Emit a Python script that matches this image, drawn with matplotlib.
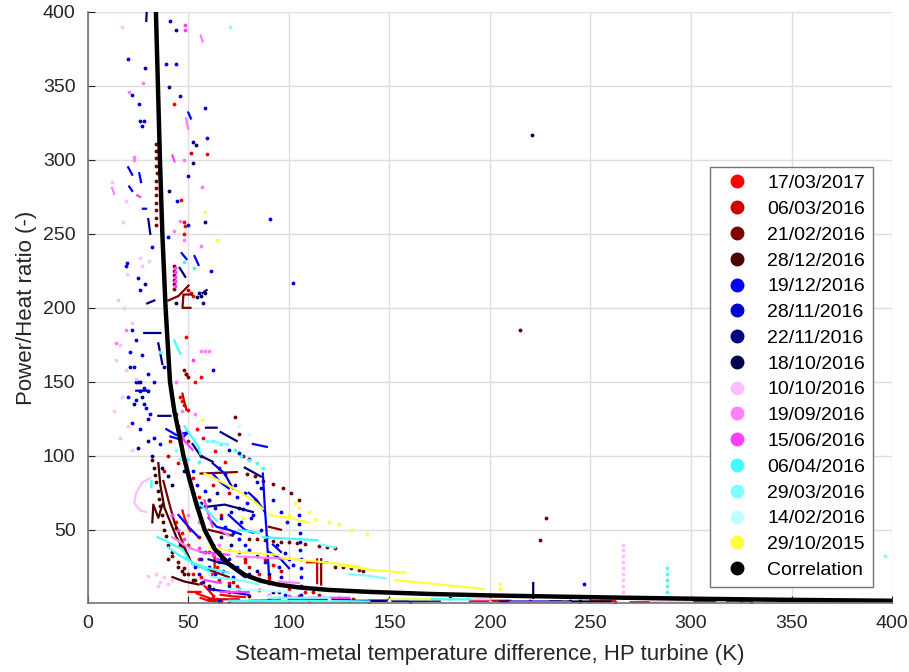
import matplotlib
matplotlib.use('Agg')
import matplotlib.pyplot as plt
from matplotlib.lines import Line2D

nan = float('nan')

dates = ['17/03/2017', '06/03/2016', '21/02/2016', '28/12/2016', '19/12/2016',
         '28/11/2016', '22/11/2016', '18/10/2016', '10/10/2016', '19/09/2016',
         '15/06/2016', '06/04/2016', '29/03/2016', '14/02/2016', '29/10/2015']
colors = [(1, 0, 0), (0.8, 0, 0), (0.5, 0, 0), (0.3, 0, 0), (0, 0, 1),
          (0, 0, 0.8), (0, 0, 0.5), (0, 0, 0.3), (1, 0.75, 1), (1, 0.5, 1),
          (1, 0.25, 1), (0.25, 1, 1), (0.5, 1, 1), (0.75, 1, 1), (1, 1, 0.25)]

# correlation curve
corr_x = [33.8, 34.8, 35.8, 37.0, 38.6, 40.8, 43.0, 45.0, 47.5, 50.5, 54.0, 58.0, 63.0,
          70.0, 78.0, 86.0, 95.0, 105, 120, 140, 170, 200, 230, 260, 300, 350, 400]
corr_y = [400, 350, 300, 250, 200, 150, 130, 117, 100, 84, 67, 50, 37,
          27, 19.5, 15.5, 12.8, 11, 9.3, 8, 6.6, 5.6, 4.9, 4.2, 3.4, 2.6, 2.0]

# --- 17/03/2017
s1_x = [43, 59, 48, 48.5, 46.4, 48, 51, 52, 46, 47, 48, 50, 53, 56, 45, 52, 55, 58, 42, 44, 47, 50,
        60, 62, 64, 66, 70, 95, 110, 120, 140, 255, 262, 300, 310, 325, 330, 85, 90, 100, 108,
        54, 57, 63, 68, 75, 78, 44, 41, 49,
        55, 58, 61, 65, 70, 74, 52, 56, 64, 68, 88, 92]
s1_y = [338, 304, 258, 255, 273, 250, 210, 208, 140, 137, 134, 131, 150, 153, 95, 85, 72, 66, 60, 55, 48, 40,
        10, 5, 3, 2, 1.5, 4, 2, 3, 1.5, 2, 1.5, 1, 2.5, 2, 1.5, 20, 16, 10, 8,
        118, 112, 103, 96, 35, 28, 128, 110, 180,
        30, 24, 20, 16, 14, 12, 20, 18, 25, 28, 30, 26]
s1_tx = [47, 48, 49, 50, 51, nan, 54, 58, 62, 64, nan, 56, 60, 63, nan, 250, 262, nan, 300, 312, nan,
         66, 72, 78, nan, 50, 56, nan, 58, 62, nan, 80, 95, nan, 270, 285, nan, 318, 330]
s1_ty = [63, 58, 55, 51, 49, nan, 7, 5, 3, 2, nan, 4, 2, 1.5, nan, 2, 2, nan, 1.5, 1.5, nan,
         6, 5, 4.5, nan, 8, 8, nan, 12, 6, nan, 2, 2.5, nan, 1, 1, nan, 2, 2]

# --- 06/03/2016
s2_x = [51, 50, 49, 45, 50, 56, 62, 70, 66, 78, 80, 90, 96, 100, 112, 115, 125, 132, 150, 200, 220,
        40, 38, 55, 60, 65, 72, 85, 105]
s2_y = [305, 212, 155, 120, 110, 100, 80, 75, 60, 30, 25, 18, 22, 12, 8, 6, 4, 3, 2, 1.5, 2,
        100, 90, 45, 35, 28, 15, 9, 5]
s2_tx = [47, 48, 49, nan, 63, 63, nan, 114, 114, nan, 109, 119, nan, 60, 75, nan, 190, 210]
s2_ty = [142, 136, 131, nan, 32, 20, nan, 30, 14, nan, 28, 28, nan, 3, 3, nan, 2, 2]

# --- 21/02/2016
s3_x = [33.8, 34.0, 33.7, 33.9, 34.1, 33.8, 33.6, 33.9, 34.0, 33.8, 33.7, 34.0,
        73, 75, 77, 79, 83, 87, 92, 97, 101, 105,
        80, 84, 88, 92, 96, 100, 104, 108, 115, 119, 123,
        123, 127, 131, 135, 137, 228, 225,
        43, 43, 43, 43, 43, 43, 48, 49, 50,
        40, 42, 45, 48, 50, 53, 56, 60]
s3_y = [311, 306, 301, 296, 291, 286, 281, 276, 271, 266, 261, 256,
        126, 115, 100, 88, 86, 83, 81, 78, 75, 70,
        44, 43.5, 43, 42.5, 42, 41.5, 41, 40.5, 39, 38.5, 38,
        25, 24.5, 24, 23, 22, 58, 43,
        228, 225, 222, 219, 216, 213, 158, 155, 153,
        40, 32, 28, 24, 20, 16, 14, 12]
s3_tx = [40, 45, 50, nan, 51.7, 47.5, 47, 51, nan, 37.5, 40, 43, 46, 49, 51, nan,
         52, 58, 64, 70, nan, 56, 74, nan, 116, 116, nan, 60, 66, 72, nan, 90, 96, nan, 100, 130]
s3_ty = [205, 208, 215, nan, 209, 209, 200, 200, nan, 83, 70, 55, 45, 35, 29, nan,
         27, 24, 21, 18, nan, 88, 89, nan, 30, 13, nan, 50, 48, 46, nan, 52, 50, nan, 3, 3]

# --- 28/12/2016
s4_x = [32, 33, 33.5, 34, 35, 35.5, 36, 37, 37.5, 38, 39, 215, 60, 62, 70, 80, 90,
        45, 48, 52, 40, 42, 44, 46, 47]
s4_y = [97, 92, 87, 82, 76, 71, 66, 60, 55, 50, 46, 185, 12, 10, 8, 5, 3,
        25, 20, 16, 30, 35, 51, 40, 22]
s4_tx = [32, 32.5, 35, 37, nan, 35, 36, 38, 41, 44, 47, 50, nan, 42, 48, 55, nan, 150, 175]
s4_ty = [55, 67, 58, 67, nan, 95, 80, 65, 55, 45, 38, 32, nan, 18, 15, 13, nan, 2, 2]

# --- 19/12/2016
s5_x = [40.8, 20, 39, 44, 21.7, 45.8, 25.3, 58.4, 59, 50, 44.3, 50, 40, 32, 19.6, 19, 61, 25, 26, 90.5,
        22, 24, 21, 27, 23, 30, 25, 28, 20, 24, 29, 31, 22, 26, 33, 36, 62, 30,
        60, 63, 66, 68, 72, 75, 78, 80, 84, 88, 62, 65, 70, 74, 80, 85, 90, 67, 72, 60, 63, 57,
        76, 82, 86, 89, 100, 95,
        105, 105, 105.3, 105.5, 105.5, 106, 106, 106, 106, 106, 65, 100, 130, 160,
        52, 54, 58, 65, 68, 74, 79, 84, 86, 92, 96, 99, 75, 71, 56, 58, 53, 55, 95, 98]
s5_y = [394, 368, 365, 365, 344, 343, 338, 335, 315, 289, 272, 256, 248, 241, 230, 228, 225, 220, 212, 260,
        185, 178, 170, 168, 160, 155, 150, 146, 140, 138, 132, 128, 122, 118, 112, 108, 158, 125,
        70, 65, 58, 52, 48, 44, 40, 36, 32, 28, 40, 35, 30, 25, 20, 17, 14, 22, 18, 25, 20, 15,
        55, 60, 50, 45, 30, 25,
        60, 54, 48, 42, 36, 30, 24, 18, 12, 6, 2, 3, 2, 1.5,
        90, 80, 76, 92, 88, 72, 68, 82, 78, 70, 62, 55, 65, 62, 30, 35, 25, 20, 8, 6]
s5_tx = [20, 22, nan, 25.5, 26.4, nan, 20.5, 22, nan, 27.3, 28.9, nan, 46.6, 49, nan, 53, 55, nan,
         49.9, 51.2, nan, 39, 44, 50, 46, 41, nan, 82, 89, nan, 87, 88, 89, 90, nan,
         60, 64, 70, 76, nan, 66, 72, 78, nan, 62, 66, 70, nan, 45, 50, 55, nan, 80, 84, 88, nan,
         70, 74, 78, 82, nan, 92, 96, nan, 60, 70, 80, nan, 100, 120, nan, 140, 170]
s5_ty = [295, 290, nan, 291, 285, nan, 282, 279, nan, 267, 267, nan, 237, 233, nan, 235, 229, nan,
         332, 328, nan, 118, 114, 116, 111, 113, nan, 108, 106, nan, 88, 65, 45, 20, nan,
         58, 52, 50, 47, nan, 30, 24, 18, nan, 88, 82, 78, nan, 60, 52, 45, nan, 75, 70, 62, nan,
         60, 55, 50, 48, nan, 40, 35, nan, 10, 8, 6, nan, 4, 3.5, nan, 2, 2]

# --- 28/11/2016
s6_x = [28, 27, 26, 21, 24, 26, 30, 28, 102, 247, 55, 57, 38, 33, 70, 75, 80, 73, 78, 83, 77, 81,
        94, 98, 102, 96, 70, 75]
s6_y = [326, 323, 326, 160, 150, 144, 144, 135, 217, 13, 210, 203, 160, 150, 104, 102, 98, 80, 75, 70, 64, 58,
        40, 34, 26, 18, 12, 10]
s6_tx = [24, 30, nan, 62, 68, 72, nan, 90, 96, 100, nan, 205, 235]
s6_ty = [144, 144, nan, 95, 88, 78, nan, 35, 30, 24, nan, 1.5, 1.5]

# --- 22/11/2016
s7_x = [43.6, 28.4, 40.3, 52.3, 53.8, 52.4, 40.5, 58, 28.4, 26, 27, 23, 30, 32, 25, 60, 64,
        48, 52, 56, 66, 71, 84, 90]
s7_y = [388, 362, 349, 312, 310, 298, 279, 258, 216, 150, 140, 135, 110, 100, 105, 70, 75,
        90, 75, 68, 45, 40, 22, 20]
s7_tx = [29.2, 29, nan, 30, 31, nan, 45.6, 48.4, nan, 28, 36, nan, 35, 37, nan, 35, 41, nan,
         58.7, 64, nan, 66, 74, nan, 29.5, 33, nan, 56, 68, 82, nan, 52, 56, 62, nan, 78, 86, nan,
         60, 65, 72, nan, 120, 150]
s7_ty = [400, 394, nan, 260, 250, nan, 227, 221, nan, 183, 183, nan, 176, 162, nan, 127, 127, nan,
         119, 119, nan, 116, 110, nan, 203, 205, nan, 65, 67, 62, nan, 108, 100, 96, nan, 92, 86, nan,
         30, 28, 26, nan, 2, 2]

# --- 18/10/2016
s8_x = [221, 54, 56, 58, 44, 37, 40, 42, 92, 150, 180, 240, 245]
s8_y = [317, 207, 208, 210, 203, 92, 86, 80, 8, 3, 4, 2, 2]
s8_tx = [221.5, 221.5, nan, 57, 59, nan, 230, 260]
s8_ty = [14, 4, nan, 210, 212, nan, 1.5, 1.5]

# --- 10/10/2016
s9_x = [16.8, 12, 17.6, 19, 19.5, 27, 26, 30.4, 15, 18, 22, 16, 14, 19, 24, 17, 13, 20, 16, 22,
        34, 36, 38, 40, 42, 35, 30,
        266, 266, 266, 266, 266, 266, 266, 266, 266, 266]
s9_y = [390, 285, 258, 272, 223, 228, 234, 232, 205, 200, 190, 175, 165, 158, 152, 140, 130, 120, 112, 104,
        20, 15, 18, 13, 16, 12, 19,
        40, 36, 32, 28, 24, 20, 16, 12, 8, 4]
s9_tx = [31, 27, 24, 23, 26, 29, nan, 170, 200, nan, 280, 300]
s9_ty = [85, 82, 75, 68, 63, 62, nan, 3, 3, nan, 1.5, 1.5]

# --- 19/09/2016
s10_x = [27.5, 20.6, 48, 23, 23, 56.5, 46, 43, 48, 56, 56, 58, 60, 19, 14, 44, 47, 53,
         50, 55, 60, 65, 70]
s10_y = [352, 346, 300, 300, 302, 282, 259, 252, 246, 242, 171, 171, 171, 185, 176, 150, 130, 128,
         60, 55, 45, 40, 36]
s10_tx = [12, 13, nan, 56.1, 57, nan, 48.8, 49.8, nan, 74, 90, 105, nan, 42, 50, 58, nan,
          66, 70, nan, 95, 105]
s10_ty = [281, 277, nan, 384, 380, nan, 328, 321, nan, 32, 31, 30, nan, 45, 38, 34, nan,
          50, 46, nan, 15, 14]

# --- 15/06/2016
s11_x = [48.4, 48.4, 43.4, 43.4, 43.4, 43.4, 43.4, 52, 42, 45, 48, 55, 62, 64, 90, 100]
s11_y = [391, 388, 227, 224, 221, 218, 215, 165, 60, 50, 44, 38, 33, 30, 6, 5]
s11_tx = [24.5, 26, nan, 42, 43, nan, 45, 48, 52, nan, 58, 60, 62, nan, 56, 65, 70, nan,
          110, 130, nan, 66, 80, nan, 58, 66, nan, 210, 240]
s11_ty = [276, 275, nan, 303, 299, nan, 120, 110, 104, nan, 70, 60, 52, nan, 35, 34, 33, nan,
          4, 4, nan, 8, 8, nan, 16, 14, nan, 1, 1]

# --- 06/04/2016
s12_x = [48, 52.5, 36, 50, 55, 73, 76, 80, 84, 87, 62, 66,
         288, 288, 288, 288, 288, 288]
s12_y = [231, 227, 170, 98, 96, 104, 100, 97, 95, 92, 110, 108,
         24, 20, 16, 12, 8, 4]
s12_tx = [43, 44.5, 46, nan, 48, 52, 55, 56, nan, 34.7, 38, 42, 47, 50, nan, 31.5, 31.5, nan,
          87, 100, 114, nan, 52, 60, 70, nan, 40, 45, 52, 60, nan, 55, 60, 64, nan, 75, 85, nan,
          70, 110, 140, nan, 160, 190]
s12_ty = [178, 173, 169, nan, 120, 112, 106, 101, nan, 45, 43, 40, 37, 30, nan, 83, 79, nan,
          45, 44, 43, nan, 27, 24, 21, nan, 38, 33, 28, 22, nan, 68, 62, 56, nan, 50, 48, nan,
          2, 2, 1.5, nan, 3, 3]

# --- 29/03/2016
s13_x = [70.6, 44, 46, 396.7, 59, 69]
s13_y = [390, 104, 98, 32, 110, 108]
s13_tx = [116, 123, nan, 130, 139, 148, nan, 59, 69, nan, 62, 75, 85, nan, 90, 120]
s13_ty = [40, 38, nan, 20, 19, 17, nan, 110, 108, nan, 18, 16, 13, nan, 4, 4]

# --- 14/02/2016
s14_x = [40, 75, 80, 60, 90, 120, 150, 200, 300, 350]
s14_y = [300, 120, 115, 20, 5, 3, 2, 1.5, 1.5, 1]
s14_tx = [70, 100]
s14_ty = [10, 8]

# --- 29/10/2015
s15_x = [58.4, 64, 56.5, 103, 105, 110, 113, 120, 125, 139, 131, 205, 205, 77, 100]
s15_y = [265, 246, 124, 68, 65, 62, 57, 55, 54, 47, 50, 10, 13, 58, 60]
s15_tx = [58, 64, 70, 76, 82, 87, nan, 97, 110, 125, 135, nan, 125, 140, 158, nan,
          153, 175, 197, nan, 60, 75, 95, nan, 150, 170, nan, 90, 100, 110]
s15_ty = [88, 84, 80, 75, 70, 64, nan, 31, 29, 27, 25, nan, 26, 23, 21, nan,
          16, 13, 10, nan, 38, 35, 33, nan, 3, 3, nan, 60, 58, 55]

series = [(s1_x, s1_y, s1_tx, s1_ty), (s2_x, s2_y, s2_tx, s2_ty), (s3_x, s3_y, s3_tx, s3_ty),
          (s4_x, s4_y, s4_tx, s4_ty), (s5_x, s5_y, s5_tx, s5_ty), (s6_x, s6_y, s6_tx, s6_ty),
          (s7_x, s7_y, s7_tx, s7_ty), (s8_x, s8_y, s8_tx, s8_ty), (s9_x, s9_y, s9_tx, s9_ty),
          (s10_x, s10_y, s10_tx, s10_ty), (s11_x, s11_y, s11_tx, s11_ty),
          (s12_x, s12_y, s12_tx, s12_ty), (s13_x, s13_y, s13_tx, s13_ty),
          (s14_x, s14_y, s14_tx, s14_ty), (s15_x, s15_y, s15_tx, s15_ty)]

plt.rcParams['font.family'] = ['Liberation Sans', 'DejaVu Sans']
txt = (0.15, 0.15, 0.15)

fig = plt.figure(figsize=(9.09, 6.72), dpi=100)
ax = fig.add_axes([0.0968, 0.1027, 0.8845, 0.8795])

for (xs, ys, tx, ty), c in zip(series, colors):
    ax.plot(tx, ty, '-', color=c, lw=1.6)
    ax.plot(xs, ys, '.', color=c, ms=3.5)

ax.plot(corr_x, corr_y, '-', color='k', lw=3.2)

ax.set_xlim(0, 400)
ax.set_ylim(0.5, 400)
ax.set_xticks(range(0, 401, 50))
ax.set_yticks(range(50, 401, 50))
ax.grid(True, color=(0.87, 0.87, 0.87), lw=1)
ax.set_axisbelow(True)
for s in ['top', 'right']:
    ax.spines[s].set_visible(False)
for s in ['left', 'bottom']:
    ax.spines[s].set_color((0.45, 0.45, 0.45))
    ax.spines[s].set_linewidth(1.2)
ax.tick_params(direction='in', length=5, labelsize=14, colors=txt)
ax.tick_params(axis='x', pad=9)
ax.tick_params(axis='y', pad=9)
ax.set_xlabel('Steam-metal temperature difference, HP turbine (K)', fontsize=16, color=txt,
              labelpad=8)
ax.set_ylabel('Power/Heat ratio (-)', fontsize=16, color=txt, labelpad=4)

handles = [Line2D([], [], ls='', marker='o', ms=9, color=c) for c in colors]
handles.append(Line2D([], [], ls='', marker='o', ms=9, color='k'))
leg = ax.legend(handles, dates + ['Correlation'], loc='upper right',
                bbox_to_anchor=(0.976, 0.738), borderaxespad=0, fontsize=14, frameon=True,
                fancybox=False, edgecolor=(0.45, 0.45, 0.45), framealpha=1,
                handletextpad=0.55, labelspacing=0.42, borderpad=0.4)
leg.get_frame().set_linewidth(1)

fig.savefig('out.png', dpi=100)
